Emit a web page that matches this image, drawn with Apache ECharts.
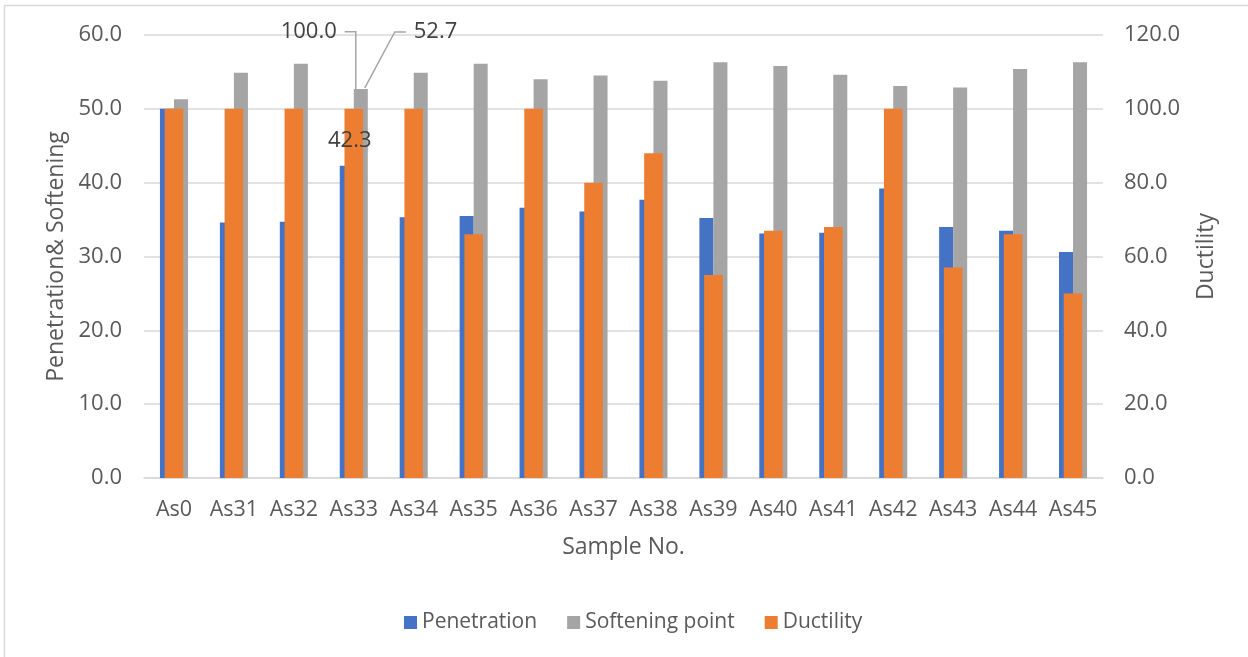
<!DOCTYPE html>
<html>
<head>
<meta charset="utf-8">
<style>
  html, body { margin: 0; padding: 0; background: #ffffff; }
  #chart { width: 1248px; height: 657px; }
</style>
<script src="https://cdn.jsdelivr.net/npm/echarts@6/dist/echarts.min.js"></script>
</head>
<body>
<div id="chart"></div>
<script>
// Binder test results per sample
const samples = ['As0', 'As31', 'As32', 'As33', 'As34', 'As35', 'As36', 'As37',
                 'As38', 'As39', 'As40', 'As41', 'As42', 'As43', 'As44', 'As45'];
const penetration = [50.0, 34.6, 34.7, 42.3, 35.3, 35.5, 36.6, 36.1,
                     37.7, 35.2, 33.1, 33.2, 39.2, 34.0, 33.5, 30.6];
const softeningPoint = [51.3, 54.9, 56.1, 52.7, 54.9, 56.1, 54.0, 54.5,
                        53.8, 56.3, 55.8, 54.6, 53.1, 52.9, 55.4, 56.3];
const ductility = [100, 100, 100, 100, 100, 66, 100, 80,
                   88, 55, 67, 68, 100, 57, 66, 50];

// Left axis (penetration & softening) and right axis (ductility) ticks
const leftAxis = { min: 0, max: 60, interval: 10 };
const rightAxis = { min: 0, max: 120, interval: 20 };

// Sample whose three values carry data labels
const labelledSample = 'As33';
const li = samples.indexOf(labelledSample);

const FONT = '"Open Sans", "Noto Sans", sans-serif';
const TEXT = '#595959';
const LABEL = '#404040';
const LEADER = '#a6a6a6';
const GRID = '#d9d9d9';

// Half of the paired-bar width as a share of the category band
const PAIR_OFFSET = 0.117;

function valueText(x, y, value, align) {
  return {
    type: 'text',
    style: {
      text: Number(value).toFixed(1), x, y,
      fill: LABEL, fontSize: 22, fontFamily: FONT,
      align, verticalAlign: 'middle'
    }
  };
}

function leader(points) {
  return {
    type: 'polyline',
    shape: { points },
    style: { stroke: LEADER, lineWidth: 1.5, fill: null }
  };
}

const chart = echarts.init(document.getElementById('chart'), null, { renderer: 'canvas' });

chart.setOption({
  animation: false,
  backgroundColor: '#ffffff',
  textStyle: { fontFamily: FONT },
  graphic: [{
    type: 'rect',
    shape: { x: 4.5, y: 5.5, width: 1280, height: 700 },
    style: { fill: 'none', stroke: GRID, lineWidth: 1.5 },
    silent: true
  }],
  grid: { left: 144, right: 145, top: 35, bottom: 179, containLabel: false },
  legend: {
    left: 404,
    top: 612,
    padding: 0,
    itemWidth: 13,
    itemHeight: 13,
    itemGap: 30,
    icon: 'rect',
    textStyle: { fontFamily: FONT, fontSize: 21, color: TEXT },
    data: ['Penetration', 'Softening point', 'Ductility']
  },
  xAxis: [{
    type: 'category',
    data: samples,
    name: 'Sample No.',
    nameLocation: 'middle',
    nameGap: 58,
    nameTextStyle: { fontFamily: FONT, fontSize: 23, color: TEXT },
    axisLine: { lineStyle: { color: GRID, width: 1.5 } },
    axisTick: { show: false },
    axisLabel: { fontFamily: FONT, fontSize: 21.5, color: TEXT, margin: 21, interval: 0 }
  }, {
    type: 'category',
    data: samples,
    show: false
  }],
  yAxis: [{
    type: 'value',
    position: 'left',
    min: leftAxis.min, max: leftAxis.max, interval: leftAxis.interval,
    name: 'Penetration& Softening',
    nameLocation: 'middle',
    nameRotate: 90,
    nameGap: 72,
    nameTextStyle: { fontFamily: FONT, fontSize: 23, color: TEXT },
    axisLine: { show: false },
    axisTick: { show: false },
    axisLabel: { fontFamily: FONT, fontSize: 22, color: TEXT, margin: 22,
                 formatter: v => v.toFixed(1) },
    splitLine: { lineStyle: { color: GRID, width: 1.5 } }
  }, {
    type: 'value',
    position: 'right',
    min: rightAxis.min, max: rightAxis.max, interval: rightAxis.interval,
    name: 'Ductility',
    nameLocation: 'middle',
    nameRotate: 90,
    nameGap: 92,
    nameTextStyle: { fontFamily: FONT, fontSize: 23, color: TEXT },
    axisLine: { show: false },
    axisTick: { show: false },
    axisLabel: { fontFamily: FONT, fontSize: 22, color: TEXT, margin: 21,
                 formatter: v => v.toFixed(1) },
    splitLine: { show: false }
  }],
  series: [{
    name: 'Penetration',
    type: 'bar',
    xAxisIndex: 0,
    yAxisIndex: 0,
    data: penetration,
    barWidth: '23.4%',
    barGap: '0%',
    itemStyle: { color: '#4472C4' },
    z: 2
  }, {
    name: 'Softening point',
    type: 'bar',
    xAxisIndex: 0,
    yAxisIndex: 0,
    data: softeningPoint,
    barWidth: '23.4%',
    barGap: '0%',
    itemStyle: { color: '#A5A5A5' },
    z: 2
  }, {
    name: 'Ductility',
    type: 'bar',
    xAxisIndex: 1,
    yAxisIndex: 1,
    data: ductility,
    barWidth: '31%',
    itemStyle: { color: '#ED7D31' },
    z: 3
  }, {
    // Value labels for penetration and softening point, with leader line
    type: 'custom',
    xAxisIndex: 0,
    yAxisIndex: 0,
    silent: true,
    clip: false,
    z: 10,
    data: [[labelledSample, penetration[li], softeningPoint[li]]],
    encode: { x: 0, y: 1 },
    renderItem: (params, api) => {
      const band = api.size([1, 0])[0];
      const off = band * PAIR_OFFSET;
      const pen = api.coord([api.value(0), api.value(1)]);
      const soft = api.coord([api.value(0), api.value(2)]);
      const px = pen[0] - off, sx = soft[0] + off;
      const ly = soft[1] - 57;
      return {
        type: 'group',
        children: [
          valueText(px + 3, pen[1] - 25, api.value(1), 'center'),
          leader([[sx + 45, ly], [sx + 34, ly], [sx + 4, soft[1] - 1]]),
          valueText(sx + 53, ly, api.value(2), 'left')
        ]
      };
    }
  }, {
    // Value label for ductility, with leader line
    type: 'custom',
    xAxisIndex: 1,
    yAxisIndex: 1,
    silent: true,
    clip: false,
    z: 10,
    data: [[labelledSample, ductility[li]]],
    encode: { x: 0, y: 1 },
    renderItem: (params, api) => {
      const top = api.coord([api.value(0), api.value(1)]);
      const cx = top[0];
      const ly = top[1] - 77;
      return {
        type: 'group',
        children: [
          leader([[cx - 9, ly], [cx + 2, ly], [cx + 2, top[1] - 2]]),
          valueText(cx - 17, ly, api.value(1), 'right')
        ]
      };
    }
  }]
});
</script>
</body>
</html>
